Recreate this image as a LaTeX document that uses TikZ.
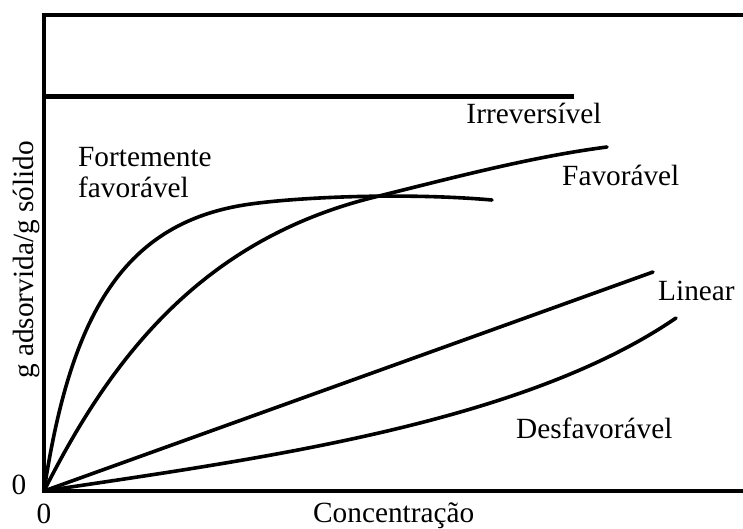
\documentclass[tikz,border=0pt]{standalone}
\usepackage{fontspec}
\setmainfont{Liberation Serif}
\begin{document}
\begin{tikzpicture}[x=1pt,y=-1pt,
  axis/.style={line width=4.6pt},
  curve/.style={line width=3.6pt,line cap=round},
  lbl/.style={font=\fontsize{29.3}{31}\selectfont,inner sep=0pt}]
\useasboundingbox (0,0) rectangle (743,529);
\coordinate (O) at (44,491);
\coordinate (TL) at (44,15);
\coordinate (TR) at (743,15);
\coordinate (BR) at (743,491);
\coordinate (IA) at (44,96.5);
\coordinate (IB) at (574,96.5);
\draw[axis] (TR) -- (TL) -- (O) -- (BR);
\draw[axis] (IA) -- (IB);
% Fortemente favoravel
\draw[curve] (O) .. controls (70,320) and (120,225) .. (244,205)
  .. controls (290,197.6) and (400,192) .. (492,200);
% Favoravel
\draw[curve] (O) .. controls (110,360) and (200,240) .. (375,197)
  .. controls (450,178.5) and (530,157) .. (607,147);
% Linear
\coordinate (LE) at (653,272);
\draw[curve] (O) -- (LE);
% Desfavoravel
\draw[curve] (O) .. controls (250,460) and (520,425) .. (676,318);
% labels
\node[lbl,anchor=base] (irr) at (534,124) {Irreversível};
\node[lbl,anchor=base west] (fort1) at (78,167) {Fortemente};
\node[lbl,anchor=base west] (fort2) at (78,198) {favorável};
\node[lbl,anchor=base west] (fav) at (562,186) {Favorável};
\node[lbl,anchor=base west] (lin) at (658,300) {Linear};
\node[lbl,anchor=base west] (des) at (516,438) {Desfavorável};
\node[lbl,anchor=base west] (conc) at (313,522) {Concentração};
\node[lbl,anchor=base] (z1) at (44,523) {0};
\node[lbl,anchor=base] (z2) at (19,494) {0};
\node[lbl,anchor=base,rotate=90] (yl) at (33,260) {g adsorvida/g sólido};
\end{tikzpicture}
\end{document}
